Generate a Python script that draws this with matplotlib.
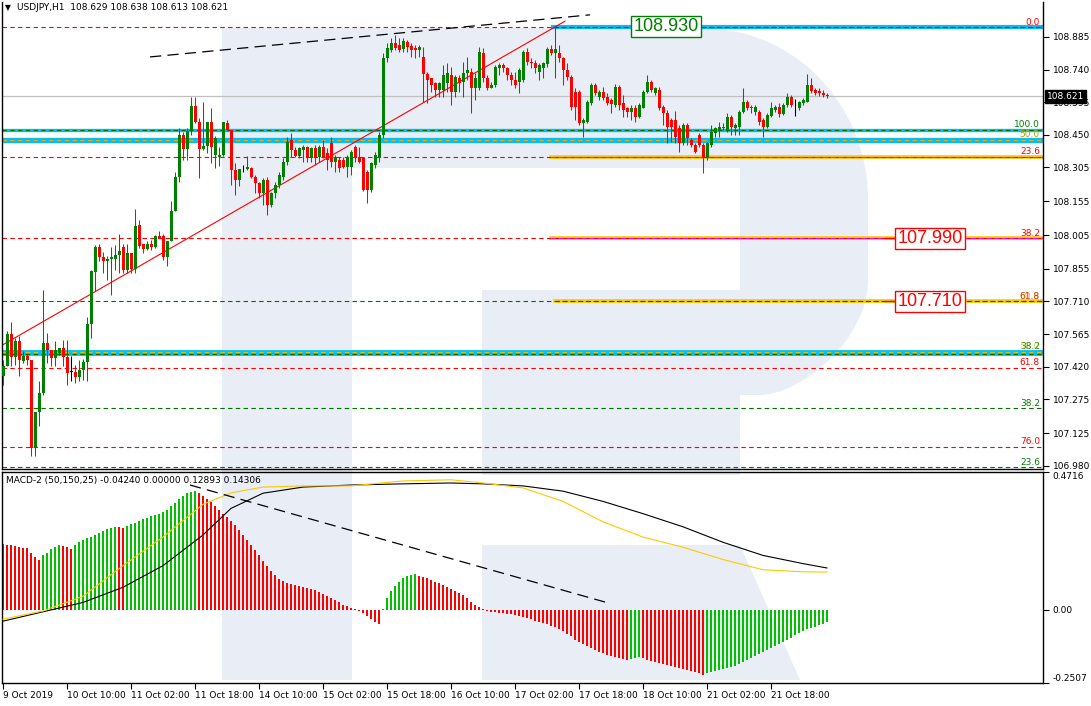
import matplotlib
matplotlib.use("Agg")
import matplotlib.pyplot as plt
from matplotlib.patches import Rectangle, PathPatch, Polygon
from matplotlib.path import Path
from matplotlib.transforms import blended_transform_factory
import numpy as np

plt.rcParams['font.family'] = 'DejaVu Sans'
plt.rcParams['font.size'] = 6.5

# ---------------- data ----------------
time_labels = ["9 Oct 2019", "10 Oct 10:00", "11 Oct 02:00", "11 Oct 18:00", "14 Oct 10:00",
               "15 Oct 02:00", "15 Oct 18:00", "16 Oct 10:00", "17 Oct 02:00", "17 Oct 18:00",
               "18 Oct 10:00", "21 Oct 02:00", "21 Oct 18:00"]
label_bars = [0, 16, 32, 48, 64, 80, 96, 112, 128, 144, 160, 176, 192]

opens = [
    107.377, 107.422, 107.565, 107.462, 107.533, 107.444, 107.466, 107.451, 107.059, 107.217,
    107.303, 107.525, 107.493, 107.459, 107.481, 107.503, 107.463, 107.399, 107.399, 107.374,
    107.407, 107.439, 107.611, 107.843, 107.954, 107.906, 107.888, 107.900, 107.900, 107.917,
    107.954, 107.851, 107.925, 107.855, 108.051, 107.965, 107.944, 107.965, 107.954, 108.003,
    108.003, 107.906, 107.980, 108.110, 108.262, 108.450, 108.388, 108.465, 108.576, 108.509,
    108.388, 108.401, 108.505, 108.361, 108.351, 108.361, 108.502, 108.472, 108.295, 108.250,
    108.299, 108.299, 108.302, 108.265, 108.235, 108.191, 108.250, 108.139, 108.191, 108.228,
    108.265, 108.331, 108.427, 108.383, 108.358, 108.383, 108.398, 108.346, 108.390, 108.353,
    108.398, 108.368, 108.413, 108.331, 108.339, 108.339, 108.309, 108.309, 108.398, 108.353,
    108.346, 108.287, 108.205, 108.316, 108.346, 108.450, 108.790, 108.827, 108.857, 108.849,
    108.831, 108.864, 108.846, 108.837, 108.827, 108.797, 108.719, 108.701, 108.679, 108.649,
    108.649, 108.679, 108.716, 108.642, 108.701, 108.686, 108.723, 108.731, 108.657, 108.657,
    108.812, 108.701, 108.657, 108.672, 108.746, 108.760, 108.746, 108.716, 108.694, 108.686,
    108.694, 108.820, 108.775, 108.768, 108.731, 108.746, 108.763, 108.831, 108.812, 108.812,
    108.790, 108.738, 108.709, 108.642, 108.642, 108.501, 108.509, 108.590, 108.672, 108.620,
    108.642, 108.620, 108.605, 108.583, 108.664, 108.590, 108.568, 108.553, 108.571, 108.531,
    108.571, 108.642, 108.686, 108.635, 108.649, 108.575, 108.546, 108.516, 108.516, 108.479,
    108.413, 108.494, 108.427, 108.405, 108.450, 108.405, 108.346, 108.405, 108.457, 108.472,
    108.479, 108.472, 108.531, 108.479, 108.487, 108.550, 108.598, 108.575, 108.553, 108.550,
    108.516, 108.487, 108.535, 108.561, 108.575, 108.541, 108.583, 108.620, 108.583, 108.568,
    108.590, 108.598, 108.672, 108.649, 108.645, 108.638, 108.629]

highs = [
    107.451, 107.577, 107.618, 107.547, 107.555, 107.488, 107.481, 107.451, 107.217, 107.355,
    107.762, 107.570, 107.496, 107.533, 107.503, 107.540, 107.540, 107.466, 107.429, 107.451,
    107.454, 107.641, 107.851, 107.962, 107.966, 107.928, 107.910, 107.954, 107.962, 108.009,
    107.966, 107.965, 107.925, 108.122, 108.070, 107.965, 107.977, 107.984, 108.006, 108.021,
    108.009, 107.980, 108.154, 108.283, 108.480, 108.461, 108.480, 108.620, 108.620, 108.524,
    108.598, 108.509, 108.569, 108.443, 108.398, 108.506, 108.517, 108.472, 108.324, 108.299,
    108.317, 108.354, 108.309, 108.272, 108.242, 108.257, 108.265, 108.198, 108.242, 108.287,
    108.346, 108.442, 108.457, 108.398, 108.398, 108.405, 108.402, 108.398, 108.405, 108.405,
    108.427, 108.390, 108.442, 108.361, 108.353, 108.353, 108.361, 108.383, 108.405, 108.398,
    108.353, 108.294, 108.331, 108.376, 108.464, 108.812, 108.857, 108.879, 108.894, 108.879,
    108.879, 108.872, 108.857, 108.849, 108.849, 108.842, 108.731, 108.701, 108.686, 108.686,
    108.760, 108.768, 108.753, 108.716, 108.716, 108.775, 108.797, 108.746, 108.723, 108.842,
    108.834, 108.716, 108.686, 108.760, 108.768, 108.768, 108.753, 108.731, 108.731, 108.746,
    108.827, 108.834, 108.790, 108.782, 108.768, 108.775, 108.842, 108.849, 108.930, 108.849,
    108.797, 108.768, 108.716, 108.657, 108.649, 108.524, 108.605, 108.679, 108.679, 108.649,
    108.664, 108.635, 108.612, 108.675, 108.672, 108.627, 108.575, 108.583, 108.583, 108.590,
    108.649, 108.716, 108.694, 108.664, 108.664, 108.583, 108.561, 108.524, 108.556, 108.494,
    108.501, 108.501, 108.435, 108.413, 108.457, 108.413, 108.420, 108.494, 108.487, 108.509,
    108.501, 108.546, 108.538, 108.501, 108.561, 108.657, 108.605, 108.583, 108.583, 108.561,
    108.524, 108.546, 108.595, 108.583, 108.590, 108.590, 108.635, 108.627, 108.609, 108.601,
    108.612, 108.719, 108.704, 108.657, 108.657, 108.649, 108.638]

lows = [
    107.340, 107.422, 107.425, 107.429, 107.377, 107.436, 107.429, 107.022, 107.022, 107.155,
    107.296, 107.436, 107.422, 107.422, 107.473, 107.422, 107.340, 107.355, 107.348, 107.355,
    107.362, 107.355, 107.547, 107.755, 107.888, 107.836, 107.806, 107.740, 107.851, 107.836,
    107.836, 107.836, 107.836, 107.836, 107.947, 107.925, 107.940, 107.937, 107.947, 107.991,
    107.895, 107.866, 107.977, 108.110, 108.239, 108.339, 108.339, 108.450, 108.502, 108.258,
    108.384, 108.369, 108.324, 108.302, 108.310, 108.354, 108.465, 108.228, 108.184, 108.221,
    108.287, 108.295, 108.257, 108.191, 108.168, 108.139, 108.094, 108.131, 108.168, 108.213,
    108.250, 108.316, 108.353, 108.353, 108.346, 108.331, 108.331, 108.331, 108.316, 108.331,
    108.346, 108.294, 108.309, 108.287, 108.287, 108.302, 108.265, 108.272, 108.331, 108.324,
    108.202, 108.146, 108.198, 108.302, 108.331, 108.435, 108.775, 108.820, 108.827, 108.820,
    108.820, 108.820, 108.797, 108.790, 108.797, 108.598, 108.590, 108.642, 108.620, 108.620,
    108.620, 108.642, 108.583, 108.620, 108.642, 108.620, 108.694, 108.546, 108.605, 108.649,
    108.686, 108.649, 108.657, 108.664, 108.716, 108.731, 108.694, 108.672, 108.657, 108.635,
    108.686, 108.760, 108.746, 108.723, 108.694, 108.701, 108.753, 108.805, 108.701, 108.775,
    108.672, 108.694, 108.561, 108.516, 108.494, 108.442, 108.501, 108.583, 108.627, 108.605,
    108.605, 108.583, 108.546, 108.575, 108.561, 108.531, 108.531, 108.516, 108.509, 108.524,
    108.568, 108.635, 108.642, 108.627, 108.561, 108.494, 108.413, 108.420, 108.413, 108.376,
    108.405, 108.405, 108.398, 108.368, 108.398, 108.279, 108.339, 108.398, 108.442, 108.442,
    108.472, 108.464, 108.450, 108.450, 108.450, 108.546, 108.561, 108.546, 108.538, 108.494,
    108.442, 108.479, 108.531, 108.550, 108.531, 108.538, 108.575, 108.575, 108.535, 108.561,
    108.583, 108.595, 108.635, 108.627, 108.624, 108.620, 108.613]

closes = [
    107.422, 107.565, 107.462, 107.533, 107.448, 107.466, 107.448, 107.059, 107.217, 107.303,
    107.525, 107.493, 107.459, 107.493, 107.503, 107.463, 107.392, 107.399, 107.374, 107.407,
    107.439, 107.611, 107.846, 107.954, 107.906, 107.888, 107.900, 107.906, 107.917, 107.935,
    107.851, 107.925, 107.855, 108.046, 107.957, 107.944, 107.965, 107.954, 108.003, 107.994,
    107.906, 107.980, 108.113, 108.262, 108.450, 108.388, 108.465, 108.576, 108.509, 108.388,
    108.401, 108.505, 108.398, 108.435, 108.361, 108.506, 108.472, 108.295, 108.250, 108.299,
    108.299, 108.307, 108.265, 108.235, 108.191, 108.250, 108.139, 108.191, 108.228, 108.272,
    108.331, 108.420, 108.383, 108.358, 108.390, 108.398, 108.346, 108.390, 108.353, 108.398,
    108.353, 108.339, 108.331, 108.353, 108.302, 108.309, 108.353, 108.376, 108.353, 108.331,
    108.205, 108.205, 108.324, 108.361, 108.450, 108.790, 108.837, 108.857, 108.834, 108.827,
    108.867, 108.842, 108.827, 108.827, 108.842, 108.719, 108.694, 108.672, 108.649, 108.679,
    108.716, 108.723, 108.642, 108.709, 108.679, 108.723, 108.738, 108.657, 108.701, 108.820,
    108.701, 108.657, 108.672, 108.753, 108.760, 108.746, 108.716, 108.694, 108.672, 108.738,
    108.820, 108.775, 108.768, 108.746, 108.760, 108.768, 108.831, 108.812, 108.831, 108.790,
    108.738, 108.709, 108.575, 108.575, 108.501, 108.516, 108.598, 108.672, 108.635, 108.642,
    108.612, 108.590, 108.586, 108.664, 108.583, 108.561, 108.553, 108.571, 108.531, 108.583,
    108.642, 108.686, 108.649, 108.657, 108.568, 108.546, 108.487, 108.487, 108.442, 108.413,
    108.494, 108.435, 108.405, 108.376, 108.405, 108.346, 108.413, 108.464, 108.479, 108.487,
    108.487, 108.531, 108.487, 108.494, 108.553, 108.598, 108.568, 108.568, 108.575, 108.509,
    108.487, 108.538, 108.568, 108.575, 108.541, 108.583, 108.620, 108.583, 108.583, 108.595,
    108.605, 108.672, 108.645, 108.635, 108.635, 108.627, 108.621]

# MACD-2 (50,150,25) histogram, one value per bar
macd_hist = [
    0.224, 0.222, 0.220, 0.217, 0.215, 0.213, 0.210, 0.193, 0.179, 0.172,
    0.186, 0.196, 0.207, 0.214, 0.221, 0.217, 0.214, 0.207, 0.221, 0.231,
    0.238, 0.245, 0.249, 0.256, 0.263, 0.270, 0.277, 0.280, 0.284, 0.282,
    0.280, 0.287, 0.294, 0.298, 0.305, 0.312, 0.315, 0.322, 0.326, 0.329,
    0.333, 0.343, 0.354, 0.364, 0.378, 0.389, 0.399, 0.403, 0.406, 0.399,
    0.389, 0.378, 0.368, 0.354, 0.343, 0.329, 0.319, 0.305, 0.291, 0.273,
    0.256, 0.238, 0.221, 0.203, 0.186, 0.168, 0.151, 0.133, 0.119, 0.105,
    0.098, 0.091, 0.088, 0.084, 0.081, 0.077, 0.074, 0.070, 0.067, 0.060,
    0.053, 0.046, 0.039, 0.032, 0.025, 0.018, 0.014, 0.007, 0.004, -0.004,
    -0.011, -0.021, -0.032, -0.042, -0.049, 0.004, 0.039, 0.063, 0.081, 0.095,
    0.109, 0.116, 0.119, 0.123, 0.116, 0.112, 0.109, 0.102, 0.095, 0.091,
    0.084, 0.077, 0.070, 0.063, 0.056, 0.049, 0.039, 0.028, 0.018, 0.011,
    0.004, -0.004, -0.007, -0.009, -0.011, -0.012, -0.014, -0.016, -0.018, -0.021,
    -0.025, -0.028, -0.032, -0.039, -0.042, -0.046, -0.049, -0.056, -0.060, -0.067,
    -0.074, -0.084, -0.091, -0.102, -0.109, -0.116, -0.123, -0.130, -0.137, -0.144,
    -0.147, -0.154, -0.158, -0.161, -0.165, -0.168, -0.172, -0.168, -0.165, -0.161,
    -0.165, -0.172, -0.175, -0.179, -0.182, -0.186, -0.189, -0.193, -0.196, -0.200,
    -0.203, -0.207, -0.210, -0.214, -0.217, -0.224, -0.217, -0.214, -0.210, -0.207,
    -0.203, -0.200, -0.196, -0.193, -0.186, -0.179, -0.172, -0.165, -0.158, -0.151,
    -0.144, -0.137, -0.130, -0.123, -0.116, -0.109, -0.102, -0.095, -0.088, -0.081,
    -0.074, -0.067, -0.063, -0.060, -0.053, -0.049, -0.042]

# indicator lines sampled at bar positions
line_bars = [0, 10, 20, 30, 40, 50, 57, 65, 75, 87, 100, 112, 120, 130, 140, 150, 160, 170, 180, 190, 200, 206]
black_line = [-0.039, -0.007, 0.025, 0.077, 0.151, 0.256, 0.347, 0.399, 0.420, 0.427, 0.431,
              0.434, 0.431, 0.424, 0.406, 0.371, 0.329, 0.284, 0.231, 0.186, 0.158, 0.143]
yellow_line = [-0.032, -0.004, 0.046, 0.151, 0.249, 0.361, 0.400, 0.420, 0.424, 0.424, 0.441,
               0.445, 0.434, 0.417, 0.371, 0.301, 0.249, 0.214, 0.172, 0.137, 0.130, 0.129]

price_ticks = [108.885, 108.740, 108.595, 108.450, 108.305, 108.155, 108.005,
               107.855, 107.710, 107.565, 107.420, 107.275, 107.125, 106.980]
last_price = 108.621

# ---------------- figure ----------------
W, H = 1091, 706
fig = plt.figure(figsize=(W / 100, H / 100), dpi=100)
fig.patch.set_facecolor('white')


def frac(x0, y0, x1, y1):
    return [x0 / W, 1 - y1 / H, (x1 - x0) / W, (y1 - y0) / H]


# background watermark (big light "R")
bg = fig.add_axes([0, 0, 1, 1], zorder=0)
bg.set_xlim(0, W)
bg.set_ylim(H, 0)
bg.axis('off')
wm = '#e9edf5'
bg.add_patch(Rectangle((222, 28), 130, 652, color=wm, lw=0))
verts = [(352, 28), (700, 28), (800, 28), (868, 110), (868, 200), (868, 280),
         (868, 340), (800, 395), (760, 395), (352, 395), (352, 28)]
codes = [Path.MOVETO, Path.LINETO, Path.CURVE4, Path.CURVE4, Path.CURVE4, Path.LINETO,
         Path.CURVE4, Path.CURVE4, Path.CURVE4, Path.LINETO, Path.CLOSEPOLY]
bg.add_patch(PathPatch(Path(verts, codes), color=wm, lw=0))
bg.add_patch(Rectangle((352, 168), 388, 122, color='white', lw=0))
bg.add_patch(Rectangle((352, 290), 130, 110, color='white', lw=0))
bg.add_patch(Rectangle((482, 395), 258, 80, color=wm, lw=0))
bg.add_patch(Polygon([(482, 545), (740, 545), (800, 680), (482, 680)], color=wm, lw=0))

ax = fig.add_axes(frac(2, 2, 1043, 469), zorder=1)
mx = fig.add_axes(frac(2, 472, 1043, 683), zorder=1)
for a in (ax, mx):
    a.patch.set_alpha(0)
    a.set_xlim(-0.25, 260)
    for s in a.spines.values():
        s.set_linewidth(1.0)
ax.spines['top'].set_visible(False)
ax.set_ylim(106.966, 109.040)
mx.set_ylim(-0.2507, 0.4716)

x = np.arange(len(closes))
o = np.array(opens)
c = np.array(closes)
hi = np.array(highs)
lo = np.array(lows)
cols = np.where(c > o, '#008000', np.where(c < o, '#ff0000', '#000000'))

# levels (drawn under candles)
tr = blended_transform_factory(ax.transAxes, ax.transData)
full = dict(zorder=2, lw=0.8)
ax.axhline(108.930, color='#ff0000', ls=(0, (4, 3)), **full)
ax.axhline(last_price, color='#c0c0c0', lw=0.9, zorder=1.5)
ax.axhline(108.472, color='#00bfff', lw=2.4, zorder=1.8)
ax.axhline(108.472, color='#007000', ls=(0, (4, 3)), **full)
ax.axhline(108.428, color='#00bfff', lw=3.8, zorder=1.8)
ax.axhline(108.428, color='#ffa500', ls=(0, (4, 3)), **full)
ax.axhline(108.352, color='#ff0000', ls=(0, (4, 3)), **full)
ax.axhline(107.990, color='#ff0000', ls=(0, (4, 3)), **full)
ax.axhline(107.710, color='#007000', ls=(0, (4, 3)), **full)
ax.axhline(107.482, color='#00bfff', lw=4.2, zorder=1.8)
ax.axhline(107.487, color='#e8c000', ls=(0, (4, 3)), **full)
ax.axhline(107.476, color='#007000', ls=(0, (4, 3)), **full)
ax.axhline(107.415, color='#ff0000', ls=(0, (4, 3)), **full)
ax.axhline(107.237, color='#007000', ls=(0, (4, 3)), **full)
ax.axhline(107.064, color='#ff0000', ls=(0, (4, 3)), **full)
ax.axhline(106.975, color='#007000', ls=(0, (4, 3)), **full)

# partial levels from the swing high
ax.plot([137.5, 260], [108.930, 108.930], color='#00bfff', lw=3.0, zorder=1.8)
ax.plot([137.5, 260], [108.930, 108.930], color='#006000', ls=(0, (4, 3)), lw=0.8, zorder=2)
for lvl, dcol, start in [(108.352, '#ff00ff', 137), (107.990, '#ff00ff', 137), (107.710, '#007000', 138)]:
    ax.plot([start, 260], [lvl, lvl], color='#ffc800', lw=2.6, zorder=1.8)
    ax.plot([start, 260], [lvl, lvl], color=dcol, ls=(0, (4, 3)), lw=0.8, zorder=2)

# trend lines
ax.plot([-0.5, 140.5], [107.513, 108.955], color='#ff0000', lw=0.8, zorder=2.5)
ax.plot([36.75, 146.75], [108.796, 108.983], color='black', lw=0.9, ls=(0, (9, 5)), zorder=2.5)

# candles
ax.vlines(x, lo, hi, colors=cols, lw=0.75, zorder=3)
ax.bar(x, np.maximum(np.abs(c - o), 0.0012), bottom=np.minimum(o, c), width=0.75,
       color=cols, lw=0, zorder=3.1)

# fibo labels
lab = dict(transform=tr, ha='right', va='bottom', fontsize=6.5, zorder=4)
xr = 0.997
ax.text(xr, 108.930, "0.0", color='#ff0000', **lab)
ax.text(xr, 108.474, "100.0", color='#008000', **lab)
ax.text(xr, 108.430, "50.0", color='#b8a000', **lab)
ax.text(xr, 108.354, "23.6", color='#ff0000', **lab)
ax.text(xr, 107.992, "38.2", color='#ff0000', **lab)
ax.text(xr, 107.712, "61.8", color='#ff0000', **lab)
ax.text(xr, 107.712, "50.0", color='#b8a000', alpha=0.6, **lab)
ax.text(xr, 107.489, "38.2", color='#008000', **lab)
ax.text(xr, 107.489, "50.0", color='#c8b000', alpha=0.6, **lab)
ax.text(xr, 107.417, "61.8", color='#ff0000', **lab)
ax.text(xr, 107.239, "38.2", color='#008000', **lab)
ax.text(xr, 107.066, "76.0", color='#ff0000', **lab)
ax.text(xr, 106.977, "23.6", color='#008000', **lab)

# price boxes
ax.plot([220.5, 224], [107.990, 107.990], color='#ff0000', lw=1, zorder=4)
ax.plot([220.5, 224], [107.710, 107.710], color='#ff0000', lw=1, zorder=4)
box = dict(fontsize=13, family='Liberation Sans', ha='center', va='center', zorder=5)
ax.text(165.75, 108.930, "108.930", color='#008000',
        bbox=dict(boxstyle='square,pad=0.12', fc='white', ec='#008000', lw=1), **box)
ax.text(231.75, 107.990, "107.990", color='#ff0000',
        bbox=dict(boxstyle='square,pad=0.12', fc='white', ec='#ff0000', lw=1), **box)
ax.text(231.75, 107.710, "107.710", color='#ff0000',
        bbox=dict(boxstyle='square,pad=0.12', fc='white', ec='#ff0000', lw=1), **box)

# price axis
ax.set_xticks([])
ax.yaxis.tick_right()
ax.set_yticks(price_ticks)
ax.set_yticklabels([f"{v:.3f}" for v in price_ticks])
ax.tick_params(axis='y', direction='out', length=4, width=0.8, pad=3, labelsize=6.5)
ax.annotate(f"{last_price:.3f}", xy=(1, last_price), xycoords=tr, xytext=(2.5, 0),
            textcoords='offset points', ha='left', va='center', color='white', fontsize=6.5,
            bbox=dict(boxstyle='square,pad=0.2', fc='black', ec='black'), annotation_clip=False,
            zorder=6)

# MACD panel
hcols = ['#00c000' if i > 0 and macd_hist[i] >= macd_hist[i - 1] else '#ff0000'
         for i in range(len(macd_hist))]
mx.bar(x, macd_hist, width=0.7, color=hcols, lw=0, zorder=2)
mx.plot(line_bars, black_line, color='black', lw=0.8, zorder=3)
mx.plot(line_bars, yellow_line, color='#ffc800', lw=0.8, zorder=3)
mx.plot([46.75, 151], [0.427, 0.0245], color='black', lw=0.9, ls=(0, (9, 5)), zorder=3)
mx.yaxis.tick_right()
mx.set_yticks([0.4716, 0.0, -0.2507])
mx.set_yticklabels(["0.4716", "0.00", "-0.2507"])
mx.tick_params(axis='y', direction='out', length=4, width=0.8, pad=3, labelsize=6.5)
ylabs = mx.get_yticklabels()
ylabs[0].set_va('top')
ylabs[2].set_va('bottom')
mx.set_xticks(label_bars)
mx.set_xticklabels(time_labels, ha='left')
mx.tick_params(axis='x', direction='out', length=4, width=0.8, pad=2, labelsize=6.5)

# headers
bg.text(5, 8, "\u25bc", fontsize=5.5, va='center')
bg.text(17, 8, "USDJPY,H1  108.629 108.638 108.613 108.621", fontsize=6.5, va='center')
bg.text(6, 481, "MACD-2 (50,150,25) -0.04240 0.00000 0.12893 0.14306", fontsize=6.5, va='center')

fig.savefig("out.png", dpi=100, facecolor='white')
